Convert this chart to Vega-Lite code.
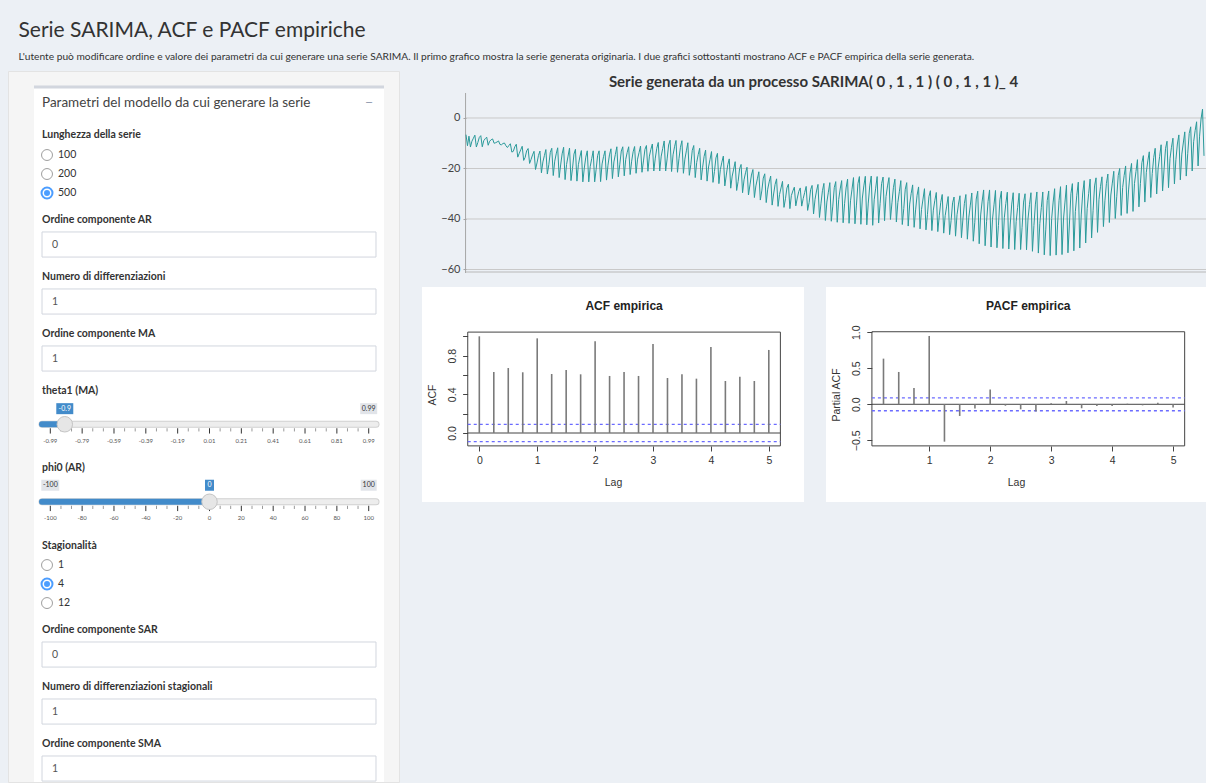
{
"$schema": "https://vega.github.io/schema/vega-lite/v6.json",
"background": "#ecf0f5",
"padding": {"left": 7, "top": 20, "right": 0, "bottom": 0},
"config": {"font": "Lato", "view": {"stroke": null}},
"title": {"text": "Serie SARIMA, ACF e PACF empiriche", "subtitle": "L'utente può modificare ordine e valore dei parametri da cui generare una serie SARIMA. Il primo grafico mostra la serie generata originaria. I due grafici sottostanti mostrano ACF e PACF empirica della serie generata.", "anchor": "start", "frame": "bounds", "dx": 11, "font": "Lato", "fontSize": 21, "fontWeight": "normal", "color": "#333333", "subtitleFont": "Lato", "subtitleFontSize": 10.2, "subtitleColor": "#333333", "subtitlePadding": 11, "offset": 8},
"datasets": {
"labels": [{"text":"Lunghezza della serie","line":2.53},{"text":"Ordine componente AR","line":7.0},{"text":"Numero di differenziazioni","line":10.0},{"text":"Ordine componente MA","line":13.0},{"text":"theta1 (MA)","line":16.0},{"text":"phi0 (AR)","line":20.05},{"text":"Stagionalità","line":24.16},{"text":"Ordine componente SAR","line":28.58},{"text":"Numero di differenziazioni stagionali","line":31.58},{"text":"Ordine componente SMA","line":34.58}],
"inputs": [{"param":"AR","value":"0","line":7.0},{"param":"d","value":"1","line":10.0},{"param":"MA","value":"1","line":13.0},{"param":"SAR","value":"0","line":28.58},{"param":"D","value":"1","line":31.58},{"param":"SMA","value":"1","line":34.58}],
"radios": [{"group":"Lunghezza della serie","opt":"100","sel":false,"line":3.58},{"group":"Lunghezza della serie","opt":"200","sel":false,"line":4.58},{"group":"Lunghezza della serie","opt":"500","sel":true,"line":5.58},{"group":"Stagionalità","opt":"1","sel":false,"line":25.16},{"group":"Stagionalità","opt":"4","sel":true,"line":26.16},{"group":"Stagionalità","opt":"12","sel":false,"line":27.16}],
"thetaMajor": [{"tick":-0.99,"label":"-0.99"},{"tick":-0.792,"label":"-0.79"},{"tick":-0.594,"label":"-0.59"},{"tick":-0.396,"label":"-0.39"},{"tick":-0.198,"label":"-0.19"},{"tick":0.0,"label":"0.01"},{"tick":0.198,"label":"0.21"},{"tick":0.396,"label":"0.41"},{"tick":0.594,"label":"0.61"},{"tick":0.792,"label":"0.81"},{"tick":0.99,"label":"0.99"}],
"thetaMinor": [{"tick":-0.924},{"tick":-0.858},{"tick":-0.726},{"tick":-0.66},{"tick":-0.528},{"tick":-0.462},{"tick":-0.33},{"tick":-0.264},{"tick":-0.132},{"tick":-0.066},{"tick":0.066},{"tick":0.132},{"tick":0.264},{"tick":0.33},{"tick":0.462},{"tick":0.528},{"tick":0.66},{"tick":0.726},{"tick":0.858},{"tick":0.924}],
"thetaBadges": [{"pos":-0.9,"text":"-0.9","kind":"value"},{"pos":0.99,"text":"0.99","kind":"max"}],
"phiMajor": [{"tick":-100,"label":"-100"},{"tick":-80,"label":"-80"},{"tick":-60,"label":"-60"},{"tick":-40,"label":"-40"},{"tick":-20,"label":"-20"},{"tick":0,"label":"0"},{"tick":20,"label":"20"},{"tick":40,"label":"40"},{"tick":60,"label":"60"},{"tick":80,"label":"80"},{"tick":100,"label":"100"}],
"phiMinor": [{"tick":-93.3},{"tick":-86.7},{"tick":-73.3},{"tick":-66.7},{"tick":-53.3},{"tick":-46.7},{"tick":-33.3},{"tick":-26.7},{"tick":-13.3},{"tick":-6.7},{"tick":6.7},{"tick":13.3},{"tick":26.7},{"tick":33.3},{"tick":46.7},{"tick":53.3},{"tick":66.7},{"tick":73.3},{"tick":86.7},{"tick":93.3}],
"phiBadges": [{"pos":-100,"text":"-100","kind":"min"},{"pos":0,"text":"0","kind":"value"},{"pos":100,"text":"100","kind":"max"}],
"acf": [{"lag":0,"acf":1.0},{"lag":0.25,"acf":0.631},{"lag":0.5,"acf":0.672},{"lag":0.75,"acf":0.628},{"lag":1,"acf":0.979},{"lag":1.25,"acf":0.61},{"lag":1.5,"acf":0.652},{"lag":1.75,"acf":0.607},{"lag":2,"acf":0.948},{"lag":2.25,"acf":0.59},{"lag":2.5,"acf":0.631},{"lag":2.75,"acf":0.59},{"lag":3,"acf":0.921},{"lag":3.25,"acf":0.569},{"lag":3.5,"acf":0.607},{"lag":3.75,"acf":0.562},{"lag":4,"acf":0.89},{"lag":4.25,"acf":0.538},{"lag":4.5,"acf":0.583},{"lag":4.75,"acf":0.538},{"lag":5,"acf":0.859}],
"pacf": [{"lag":0.25,"pacf":0.634},{"lag":0.5,"pacf":0.449},{"lag":0.75,"pacf":0.227},{"lag":1,"pacf":0.949},{"lag":1.25,"pacf":-0.519},{"lag":1.5,"pacf":-0.162},{"lag":1.75,"pacf":-0.06},{"lag":2,"pacf":0.204},{"lag":2.25,"pacf":-0.02},{"lag":2.5,"pacf":-0.07},{"lag":2.75,"pacf":-0.1},{"lag":3,"pacf":0.014},{"lag":3.25,"pacf":0.046},{"lag":3.5,"pacf":-0.055},{"lag":3.75,"pacf":-0.023},{"lag":4,"pacf":-0.023},{"lag":4.25,"pacf":0.008},{"lag":4.5,"pacf":-0.015},{"lag":4.75,"pacf":0.02},{"lag":5,"pacf":-0.046}],
"series": [
{"t":0,"v":-6.6},{"t":1,"v":-11.0},{"t":2,"v":-7.2},{"t":3,"v":-11.5},
{"t":4,"v":-9.2},{"t":5,"v":-8.0},{"t":6,"v":-6.8},{"t":7,"v":-11.5},
{"t":8,"v":-9.7},{"t":9,"v":-7.7},{"t":10,"v":-7.0},{"t":11,"v":-11.4},
{"t":12,"v":-9.0},{"t":13,"v":-8.2},{"t":14,"v":-7.6},{"t":15,"v":-10.8},
{"t":16,"v":-9.2},{"t":17,"v":-8.6},{"t":18,"v":-8.3},{"t":19,"v":-10.0},
{"t":20,"v":-9.8},{"t":21,"v":-9.5},{"t":22,"v":-9.1},{"t":23,"v":-10.5},
{"t":24,"v":-10.6},{"t":25,"v":-10.1},{"t":26,"v":-9.9},{"t":27,"v":-11.0},
{"t":28,"v":-11.7},{"t":29,"v":-10.9},{"t":30,"v":-10.2},{"t":31,"v":-13.5},
{"t":32,"v":-13.2},{"t":33,"v":-11.4},{"t":34,"v":-10.4},{"t":35,"v":-15.5},
{"t":36,"v":-14.0},{"t":37,"v":-12.6},{"t":38,"v":-11.2},{"t":39,"v":-16.8},
{"t":40,"v":-15.6},{"t":41,"v":-13.0},{"t":42,"v":-12.1},{"t":43,"v":-18.0},
{"t":44,"v":-16.4},{"t":45,"v":-14.6},{"t":46,"v":-13.2},{"t":47,"v":-20.4},
{"t":48,"v":-17.8},{"t":49,"v":-14.8},{"t":50,"v":-13.1},{"t":51,"v":-21.7},
{"t":52,"v":-17.4},{"t":53,"v":-14.9},{"t":54,"v":-12.5},{"t":55,"v":-22.2},
{"t":56,"v":-18.5},{"t":57,"v":-13.6},{"t":58,"v":-12.0},{"t":59,"v":-22.8},
{"t":60,"v":-17.1},{"t":61,"v":-14.2},{"t":62,"v":-11.8},{"t":63,"v":-23.6},
{"t":64,"v":-18.6},{"t":65,"v":-14.2},{"t":66,"v":-11.6},{"t":67,"v":-24.4},
{"t":68,"v":-18.4},{"t":69,"v":-15.1},{"t":70,"v":-11.9},{"t":71,"v":-24.8},
{"t":72,"v":-20.0},{"t":73,"v":-14.3},{"t":74,"v":-12.4},{"t":75,"v":-25.0},
{"t":76,"v":-18.5},{"t":77,"v":-15.4},{"t":78,"v":-12.9},{"t":79,"v":-25.3},
{"t":80,"v":-19.8},{"t":81,"v":-15.5},{"t":82,"v":-13.0},{"t":83,"v":-25.3},
{"t":84,"v":-19.2},{"t":85,"v":-16.1},{"t":86,"v":-13.0},{"t":87,"v":-25.3},
{"t":88,"v":-20.3},{"t":89,"v":-14.8},{"t":90,"v":-13.0},{"t":91,"v":-25.2},
{"t":92,"v":-18.2},{"t":93,"v":-15.3},{"t":94,"v":-13.0},{"t":95,"v":-24.6},
{"t":96,"v":-18.7},{"t":97,"v":-14.6},{"t":98,"v":-12.2},{"t":99,"v":-24.0},
{"t":100,"v":-17.4},{"t":101,"v":-14.4},{"t":102,"v":-11.4},{"t":103,"v":-23.3},
{"t":104,"v":-18.3},{"t":105,"v":-13.1},{"t":106,"v":-11.4},{"t":107,"v":-22.9},
{"t":108,"v":-16.4},{"t":109,"v":-13.6},{"t":110,"v":-11.4},{"t":111,"v":-22.4},
{"t":112,"v":-17.1},{"t":113,"v":-13.4},{"t":114,"v":-11.3},{"t":115,"v":-21.9},
{"t":116,"v":-16.3},{"t":117,"v":-13.7},{"t":118,"v":-11.1},{"t":119,"v":-21.5},
{"t":120,"v":-17.0},{"t":121,"v":-12.4},{"t":122,"v":-10.9},{"t":123,"v":-21.1},
{"t":124,"v":-15.1},{"t":125,"v":-12.4},{"t":126,"v":-10.3},{"t":127,"v":-21.0},
{"t":128,"v":-15.9},{"t":129,"v":-12.0},{"t":130,"v":-9.7},{"t":131,"v":-21.0},
{"t":132,"v":-15.1},{"t":133,"v":-12.1},{"t":134,"v":-9.1},{"t":135,"v":-21.0},
{"t":136,"v":-16.2},{"t":137,"v":-10.7},{"t":138,"v":-8.8},{"t":139,"v":-21.2},
{"t":140,"v":-14.6},{"t":141,"v":-11.4},{"t":142,"v":-8.9},{"t":143,"v":-21.5},
{"t":144,"v":-16.1},{"t":145,"v":-11.6},{"t":146,"v":-9.0},{"t":147,"v":-21.9},
{"t":148,"v":-16.3},{"t":149,"v":-13.0},{"t":150,"v":-9.8},{"t":151,"v":-22.7},
{"t":152,"v":-18.5},{"t":153,"v":-12.8},{"t":154,"v":-10.9},{"t":155,"v":-23.6},
{"t":156,"v":-17.6},{"t":157,"v":-14.5},{"t":158,"v":-12.0},{"t":159,"v":-24.5},
{"t":160,"v":-19.5},{"t":161,"v":-15.2},{"t":162,"v":-12.7},{"t":163,"v":-25.0},
{"t":164,"v":-19.4},{"t":165,"v":-16.4},{"t":166,"v":-13.3},{"t":167,"v":-25.5},
{"t":168,"v":-21.2},{"t":169,"v":-15.8},{"t":170,"v":-14.0},{"t":171,"v":-26.0},
{"t":172,"v":-20.4},{"t":173,"v":-17.5},{"t":174,"v":-15.1},{"t":175,"v":-26.9},
{"t":176,"v":-22.6},{"t":177,"v":-18.5},{"t":178,"v":-16.2},{"t":179,"v":-27.8},
{"t":180,"v":-23.0},{"t":181,"v":-20.2},{"t":182,"v":-17.3},{"t":183,"v":-28.7},
{"t":184,"v":-25.1},{"t":185,"v":-20.1},{"t":186,"v":-18.4},{"t":187,"v":-29.6},
{"t":188,"v":-24.5},{"t":189,"v":-21.7},{"t":190,"v":-19.5},{"t":191,"v":-30.5},
{"t":192,"v":-26.5},{"t":193,"v":-22.6},{"t":194,"v":-20.4},{"t":195,"v":-31.5},
{"t":196,"v":-26.9},{"t":197,"v":-24.1},{"t":198,"v":-21.3},{"t":199,"v":-32.5},
{"t":200,"v":-28.9},{"t":201,"v":-23.8},{"t":202,"v":-22.1},{"t":203,"v":-33.5},
{"t":204,"v":-28.2},{"t":205,"v":-25.3},{"t":206,"v":-23.0},{"t":207,"v":-34.5},
{"t":208,"v":-30.1},{"t":209,"v":-26.3},{"t":210,"v":-24.1},{"t":211,"v":-35.0},
{"t":212,"v":-30.3},{"t":213,"v":-27.7},{"t":214,"v":-25.1},{"t":215,"v":-35.4},
{"t":216,"v":-32.0},{"t":217,"v":-27.7},{"t":218,"v":-26.2},{"t":219,"v":-35.9},
{"t":220,"v":-30.7},{"t":221,"v":-28.9},{"t":222,"v":-27.4},{"t":223,"v":-34.8},
{"t":224,"v":-31.7},{"t":225,"v":-29.1},{"t":226,"v":-27.7},{"t":227,"v":-34.9},
{"t":228,"v":-31.9},{"t":229,"v":-29.5},{"t":230,"v":-27.1},{"t":231,"v":-36.6},
{"t":232,"v":-33.5},{"t":233,"v":-28.4},{"t":234,"v":-26.7},{"t":235,"v":-38.0},
{"t":236,"v":-32.2},{"t":237,"v":-28.9},{"t":238,"v":-26.3},{"t":239,"v":-39.4},
{"t":240,"v":-34.0},{"t":241,"v":-28.8},{"t":242,"v":-25.9},{"t":243,"v":-40.6},
{"t":244,"v":-33.3},{"t":245,"v":-29.4},{"t":246,"v":-25.6},{"t":247,"v":-40.9},
{"t":248,"v":-34.9},{"t":249,"v":-27.6},{"t":250,"v":-25.2},{"t":251,"v":-41.3},
{"t":252,"v":-32.3},{"t":253,"v":-28.1},{"t":254,"v":-24.8},{"t":255,"v":-41.5},
{"t":256,"v":-33.8},{"t":257,"v":-27.7},{"t":258,"v":-24.2},{"t":259,"v":-41.7},
{"t":260,"v":-32.8},{"t":261,"v":-28.2},{"t":262,"v":-23.6},{"t":263,"v":-41.9},
{"t":264,"v":-34.5},{"t":265,"v":-26.0},{"t":266,"v":-23.2},{"t":267,"v":-42.1},
{"t":268,"v":-31.7},{"t":269,"v":-26.9},{"t":270,"v":-23.1},{"t":271,"v":-42.3},
{"t":272,"v":-33.7},{"t":273,"v":-26.9},{"t":274,"v":-23.0},{"t":275,"v":-42.5},
{"t":276,"v":-32.4},{"t":277,"v":-27.8},{"t":278,"v":-23.2},{"t":279,"v":-41.6},
{"t":280,"v":-33.8},{"t":281,"v":-26.0},{"t":282,"v":-23.4},{"t":283,"v":-40.7},
{"t":284,"v":-31.1},{"t":285,"v":-26.9},{"t":286,"v":-23.6},{"t":287,"v":-40.2},
{"t":288,"v":-33.6},{"t":289,"v":-27.6},{"t":290,"v":-24.2},{"t":291,"v":-41.2},
{"t":292,"v":-33.5},{"t":293,"v":-29.2},{"t":294,"v":-24.8},{"t":295,"v":-42.2},
{"t":296,"v":-35.9},{"t":297,"v":-28.2},{"t":298,"v":-25.6},{"t":299,"v":-42.8},
{"t":300,"v":-34.1},{"t":301,"v":-29.9},{"t":302,"v":-26.5},{"t":303,"v":-43.3},
{"t":304,"v":-36.4},{"t":305,"v":-30.6},{"t":306,"v":-27.3},{"t":307,"v":-43.9},
{"t":308,"v":-36.2},{"t":309,"v":-32.1},{"t":310,"v":-28.0},{"t":311,"v":-44.3},
{"t":312,"v":-38.3},{"t":313,"v":-31.2},{"t":314,"v":-28.8},{"t":315,"v":-44.6},
{"t":316,"v":-36.5},{"t":317,"v":-32.6},{"t":318,"v":-29.5},{"t":319,"v":-45.0},
{"t":320,"v":-38.7},{"t":321,"v":-33.4},{"t":322,"v":-30.3},{"t":323,"v":-45.6},
{"t":324,"v":-38.7},{"t":325,"v":-34.9},{"t":326,"v":-31.1},{"t":327,"v":-46.2},
{"t":328,"v":-40.6},{"t":329,"v":-33.6},{"t":330,"v":-31.3},{"t":331,"v":-46.8},
{"t":332,"v":-38.3},{"t":333,"v":-34.1},{"t":334,"v":-30.8},{"t":335,"v":-47.4},
{"t":336,"v":-40.0},{"t":337,"v":-33.8},{"t":338,"v":-30.3},{"t":339,"v":-48.0},
{"t":340,"v":-39.3},{"t":341,"v":-34.5},{"t":342,"v":-29.7},{"t":343,"v":-48.8},
{"t":344,"v":-41.5},{"t":345,"v":-32.1},{"t":346,"v":-29.0},{"t":347,"v":-49.8},
{"t":348,"v":-38.4},{"t":349,"v":-32.9},{"t":350,"v":-28.5},{"t":351,"v":-50.6},
{"t":352,"v":-40.9},{"t":353,"v":-33.0},{"t":354,"v":-28.5},{"t":355,"v":-51.1},
{"t":356,"v":-40.1},{"t":357,"v":-34.4},{"t":358,"v":-28.7},{"t":359,"v":-51.4},
{"t":360,"v":-42.6},{"t":361,"v":-32.4},{"t":362,"v":-29.0},{"t":363,"v":-51.7},
{"t":364,"v":-39.5},{"t":365,"v":-33.9},{"t":366,"v":-29.4},{"t":367,"v":-51.9},
{"t":368,"v":-42.0},{"t":369,"v":-34.1},{"t":370,"v":-29.6},{"t":371,"v":-52.1},
{"t":372,"v":-41.0},{"t":373,"v":-35.4},{"t":374,"v":-29.8},{"t":375,"v":-52.1},
{"t":376,"v":-43.3},{"t":377,"v":-33.3},{"t":378,"v":-30.0},{"t":379,"v":-52.2},
{"t":380,"v":-40.0},{"t":381,"v":-34.2},{"t":382,"v":-29.6},{"t":383,"v":-52.8},
{"t":384,"v":-42.6},{"t":385,"v":-34.1},{"t":386,"v":-29.3},{"t":387,"v":-53.5},
{"t":388,"v":-41.8},{"t":389,"v":-35.5},{"t":390,"v":-29.3},{"t":391,"v":-54.2},
{"t":392,"v":-44.3},{"t":393,"v":-32.7},{"t":394,"v":-28.9},{"t":395,"v":-54.5},
{"t":396,"v":-39.8},{"t":397,"v":-33.3},{"t":398,"v":-28.0},{"t":399,"v":-54.3},
{"t":400,"v":-42.0},{"t":401,"v":-32.6},{"t":402,"v":-27.2},{"t":403,"v":-54.1},
{"t":404,"v":-40.0},{"t":405,"v":-33.3},{"t":406,"v":-26.6},{"t":407,"v":-53.4},
{"t":408,"v":-42.0},{"t":409,"v":-30.0},{"t":410,"v":-26.0},{"t":411,"v":-52.6},
{"t":412,"v":-37.1},{"t":413,"v":-30.6},{"t":414,"v":-25.4},{"t":415,"v":-51.5},
{"t":416,"v":-38.4},{"t":417,"v":-29.7},{"t":418,"v":-24.8},{"t":419,"v":-49.5},
{"t":420,"v":-35.9},{"t":421,"v":-30.0},{"t":422,"v":-24.2},{"t":423,"v":-47.5},
{"t":424,"v":-36.7},{"t":425,"v":-26.9},{"t":426,"v":-23.7},{"t":427,"v":-45.3},
{"t":428,"v":-32.2},{"t":429,"v":-27.2},{"t":430,"v":-23.3},{"t":431,"v":-43.0},
{"t":432,"v":-32.8},{"t":433,"v":-26.0},{"t":434,"v":-22.2},{"t":435,"v":-41.4},
{"t":436,"v":-30.5},{"t":437,"v":-25.8},{"t":438,"v":-21.1},{"t":439,"v":-39.8},
{"t":440,"v":-31.2},{"t":441,"v":-22.8},{"t":442,"v":-20.0},{"t":443,"v":-38.6},
{"t":444,"v":-27.5},{"t":445,"v":-22.8},{"t":446,"v":-19.0},{"t":447,"v":-37.8},
{"t":448,"v":-28.5},{"t":449,"v":-21.8},{"t":450,"v":-18.0},{"t":451,"v":-37.0},
{"t":452,"v":-25.9},{"t":453,"v":-21.2},{"t":454,"v":-16.5},{"t":455,"v":-35.2},
{"t":456,"v":-25.9},{"t":457,"v":-17.7},{"t":458,"v":-14.9},{"t":459,"v":-33.3},
{"t":460,"v":-21.5},{"t":461,"v":-17.0},{"t":462,"v":-13.4},{"t":463,"v":-31.5},
{"t":464,"v":-22.0},{"t":465,"v":-15.6},{"t":466,"v":-12.0},{"t":467,"v":-30.1},
{"t":468,"v":-19.8},{"t":469,"v":-15.2},{"t":470,"v":-10.6},{"t":471,"v":-28.9},
{"t":472,"v":-20.2},{"t":473,"v":-12.0},{"t":474,"v":-9.2},{"t":475,"v":-27.6},
{"t":476,"v":-16.1},{"t":477,"v":-11.6},{"t":478,"v":-8.0},{"t":479,"v":-26.1},
{"t":480,"v":-16.5},{"t":481,"v":-10.3},{"t":482,"v":-6.7},{"t":483,"v":-24.5},
{"t":484,"v":-14.3},{"t":485,"v":-9.9},{"t":486,"v":-5.5},{"t":487,"v":-23.0},
{"t":488,"v":-14.0},{"t":489,"v":-6.1},{"t":490,"v":-3.5},{"t":491,"v":-21.0},
{"t":492,"v":-9.4},{"t":493,"v":-5.0},{"t":494,"v":-1.5},{"t":495,"v":-19.0},
{"t":496,"v":-7.2},{"t":497,"v":-0.4},{"t":498,"v":3.5},{"t":499,"v":-15.0}
]
},
"spacing": 22,
"columns": 2,
"align": "none",
"concat": [
{
"width": 391, "height": 711,
"view": {"fill": "#f5f5f5", "stroke": "#e3e3e3"},
"resolve": {"scale": {"x": "independent"}},
"layer": [
{"layer": [
{"data": {"values": [{"part": "box"}]}, "mark": {"type": "rect", "fill": "#ffffff"},
 "encoding": {"x": {"datum": -2.4, "type": "quantitative", "scale": {"domain": [-10.18, 106.89], "nice": false, "zero": false}, "axis": null}, "x2": {"datum": 102.4},
 "y": {"datum": 0, "type": "quantitative", "scale": {"domain": [-0.842, 36.579], "reverse": true, "nice": false, "zero": false}, "axis": null}, "y2": {"datum": 36.579}}},
{"data": {"values": [{"part": "border"}]}, "mark": {"type": "rule", "stroke": "#d2d6de", "strokeWidth": 3},
 "encoding": {"x": {"datum": -2.4, "type": "quantitative", "scale": {"domain": [-10.18, 106.89], "nice": false, "zero": false}, "axis": null}, "x2": {"datum": 102.4},
 "y": {"datum": 0, "type": "quantitative", "scale": {"domain": [-0.842, 36.579], "reverse": true, "nice": false, "zero": false}, "axis": null}}},
{"data": {"values": [{"text": "Parametri del modello da cui generare la serie"}]}, "mark": {"type": "text", "align": "left", "baseline": "middle", "fontSize": 13.5, "color": "#444444"},
 "encoding": {"x": {"datum": 0, "type": "quantitative", "scale": {"domain": [-10.18, 106.89], "nice": false, "zero": false}, "axis": null},
 "y": {"datum": 0.84, "type": "quantitative", "scale": {"domain": [-0.842, 36.579], "reverse": true, "nice": false, "zero": false}, "axis": null}, "text": {"field": "text"}}},
{"data": {"values": [{"text": "−"}]}, "mark": {"type": "text", "align": "center", "baseline": "middle", "fontSize": 14, "color": "#97a0b3"},
 "encoding": {"x": {"datum": 97.9, "type": "quantitative", "scale": {"domain": [-10.18, 106.89], "nice": false, "zero": false}, "axis": null},
 "y": {"datum": 0.84, "type": "quantitative", "scale": {"domain": [-0.842, 36.579], "reverse": true, "nice": false, "zero": false}, "axis": null}, "text": {"field": "text"}}},
{"data": {"name": "labels"}, "mark": {"type": "text", "align": "left", "baseline": "middle", "fontSize": 10.5, "fontWeight": "bold", "color": "#333333"},
 "encoding": {"x": {"datum": 0, "type": "quantitative", "scale": {"domain": [-10.18, 106.89], "nice": false, "zero": false}, "axis": null},
 "y": {"field": "line", "type": "quantitative", "scale": {"domain": [-0.842, 36.579], "reverse": true, "nice": false, "zero": false}, "axis": null}, "text": {"field": "text"}}},
{"data": {"name": "inputs"}, "transform": [{"calculate": "datum.line + 0.63", "as": "top"}, {"calculate": "datum.line + 1.95", "as": "bot"}],
 "mark": {"type": "rect", "fill": "#ffffff", "stroke": "#d2d6de", "strokeWidth": 1},
 "encoding": {"x": {"datum": 0, "type": "quantitative", "scale": {"domain": [-10.18, 106.89], "nice": false, "zero": false}, "axis": null}, "x2": {"datum": 100},
 "y": {"field": "top", "type": "quantitative", "scale": {"domain": [-0.842, 36.579], "reverse": true, "nice": false, "zero": false}, "axis": null}, "y2": {"field": "bot"}}},
{"data": {"name": "inputs"}, "transform": [{"calculate": "datum.line + 1.29", "as": "mid"}],
 "mark": {"type": "text", "align": "left", "baseline": "middle", "fontSize": 10.5, "color": "#555555"},
 "encoding": {"x": {"datum": 3, "type": "quantitative", "scale": {"domain": [-10.18, 106.89], "nice": false, "zero": false}, "axis": null},
 "y": {"field": "mid", "type": "quantitative", "scale": {"domain": [-0.842, 36.579], "reverse": true, "nice": false, "zero": false}, "axis": null}, "text": {"field": "value"}}},
{"data": {"name": "radios"}, "mark": {"type": "point", "shape": "circle", "size": 120, "filled": true, "fill": "#ffffff"},
 "encoding": {"x": {"datum": 1.5, "type": "quantitative", "scale": {"domain": [-10.18, 106.89], "nice": false, "zero": false}, "axis": null},
 "y": {"field": "line", "type": "quantitative", "scale": {"domain": [-0.842, 36.579], "reverse": true, "nice": false, "zero": false}, "axis": null},
 "stroke": {"condition": {"test": "datum.sel", "value": "#0075ff"}, "value": "#767676"},
 "strokeWidth": {"condition": {"test": "datum.sel", "value": 2}, "value": 1}}},
{"data": {"name": "radios"}, "transform": [{"filter": "datum.sel"}], "mark": {"type": "point", "shape": "circle", "size": 36, "filled": true, "fill": "#0075ff", "strokeWidth": 0},
 "encoding": {"x": {"datum": 1.5, "type": "quantitative", "scale": {"domain": [-10.18, 106.89], "nice": false, "zero": false}, "axis": null},
 "y": {"field": "line", "type": "quantitative", "scale": {"domain": [-0.842, 36.579], "reverse": true, "nice": false, "zero": false}, "axis": null}}},
{"data": {"name": "radios"}, "mark": {"type": "text", "align": "left", "baseline": "middle", "fontSize": 10.5, "color": "#333333"},
 "encoding": {"x": {"datum": 4.8, "type": "quantitative", "scale": {"domain": [-10.18, 106.89], "nice": false, "zero": false}, "axis": null},
 "y": {"field": "line", "type": "quantitative", "scale": {"domain": [-0.842, 36.579], "reverse": true, "nice": false, "zero": false}, "axis": null}, "text": {"field": "opt"}}}
]},
{"layer": [
{"data": {"values": [{"slider": "theta1 (MA)"}]}, "mark": {"type": "rule", "stroke": "#d0d0d0", "strokeWidth": 7, "strokeCap": "round"},
 "encoding": {"x": {"datum": -1.0416, "type": "quantitative", "scale": {"domain": [-1.2531, 1.1784], "nice": false, "zero": false}, "axis": null}, "x2": {"datum": 1.0354},
 "y": {"datum": 17.75, "type": "quantitative", "scale": {"domain": [-0.842, 36.579], "reverse": true, "nice": false, "zero": false}, "axis": null}}},
{"data": {"values": [{"slider": "theta1 (MA)"}]}, "mark": {"type": "rule", "stroke": "#ededed", "strokeWidth": 5, "strokeCap": "round"},
 "encoding": {"x": {"datum": -1.0416, "type": "quantitative", "scale": {"domain": [-1.2531, 1.1784], "nice": false, "zero": false}, "axis": null}, "x2": {"datum": 1.0354},
 "y": {"datum": 17.75, "type": "quantitative", "scale": {"domain": [-0.842, 36.579], "reverse": true, "nice": false, "zero": false}, "axis": null}}},
{"data": {"values": [{"slider": "theta1 (MA)"}]}, "mark": {"type": "rule", "stroke": "#428bca", "strokeWidth": 6, "strokeCap": "round"},
 "encoding": {"x": {"datum": -1.0416, "type": "quantitative", "scale": {"domain": [-1.2531, 1.1784], "nice": false, "zero": false}, "axis": null}, "x2": {"datum": -0.9},
 "y": {"datum": 17.75, "type": "quantitative", "scale": {"domain": [-0.842, 36.579], "reverse": true, "nice": false, "zero": false}, "axis": null}}},
{"data": {"name": "thetaMinor"}, "mark": {"type": "rule", "stroke": "#9a9a9a", "strokeWidth": 1},
 "encoding": {"x": {"field": "tick", "type": "quantitative", "scale": {"domain": [-1.2531, 1.1784], "nice": false, "zero": false}, "axis": null},
 "y": {"datum": 17.96, "type": "quantitative", "scale": {"domain": [-0.842, 36.579], "reverse": true, "nice": false, "zero": false}, "axis": null}, "y2": {"datum": 18.13}}},
{"data": {"name": "thetaMajor"}, "mark": {"type": "rule", "stroke": "#333333", "strokeWidth": 1},
 "encoding": {"x": {"field": "tick", "type": "quantitative", "scale": {"domain": [-1.2531, 1.1784], "nice": false, "zero": false}, "axis": null},
 "y": {"datum": 17.96, "type": "quantitative", "scale": {"domain": [-0.842, 36.579], "reverse": true, "nice": false, "zero": false}, "axis": null}, "y2": {"datum": 18.24}}},
{"data": {"name": "thetaMajor"}, "mark": {"type": "text", "align": "center", "baseline": "middle", "fontSize": 6, "color": "#555555"},
 "encoding": {"x": {"field": "tick", "type": "quantitative", "scale": {"domain": [-1.2531, 1.1784], "nice": false, "zero": false}, "axis": null},
 "y": {"datum": 18.63, "type": "quantitative", "scale": {"domain": [-0.842, 36.579], "reverse": true, "nice": false, "zero": false}, "axis": null}, "text": {"field": "label"}}},
{"data": {"values": [{"value": -0.9}]}, "mark": {"type": "point", "shape": "circle", "size": 240, "filled": true, "fill": "#e6e6e6", "stroke": "#c4c4c4", "strokeWidth": 1, "opacity": 1},
 "encoding": {"x": {"field": "value", "type": "quantitative", "scale": {"domain": [-1.2531, 1.1784], "nice": false, "zero": false}, "axis": null},
 "y": {"datum": 17.75, "type": "quantitative", "scale": {"domain": [-0.842, 36.579], "reverse": true, "nice": false, "zero": false}, "axis": null}}},
{"data": {"name": "thetaBadges"}, "mark": {"type": "point", "size": 400, "filled": true, "strokeWidth": 0, "opacity": 1},
 "encoding": {"x": {"field": "pos", "type": "quantitative", "scale": {"domain": [-1.2531, 1.1784], "nice": false, "zero": false}, "axis": null},
 "y": {"datum": 16.93, "type": "quantitative", "scale": {"domain": [-0.842, 36.579], "reverse": true, "nice": false, "zero": false}, "axis": null},
 "shape": {"field": "text", "type": "nominal", "scale": {"domain": ["-0.9", "0.99", "-100", "0", "100"], "range": ["M-0.85,-0.55H0.85V0.55H-0.85Z", "M-0.85,-0.55H0.85V0.55H-0.85Z", "M-0.9,-0.55H0.9V0.55H-0.9Z", "M-0.45,-0.55H0.45V0.55H-0.45Z", "M-0.8,-0.55H0.8V0.55H-0.8Z"]}, "legend": null},
 "fill": {"condition": {"test": "datum.kind == 'value'", "value": "#428bca"}, "value": "#e1e4e9"}}},
{"data": {"name": "thetaBadges"}, "mark": {"type": "text", "align": "center", "baseline": "middle", "fontSize": 7},
 "encoding": {"x": {"field": "pos", "type": "quantitative", "scale": {"domain": [-1.2531, 1.1784], "nice": false, "zero": false}, "axis": null},
 "y": {"datum": 16.93, "type": "quantitative", "scale": {"domain": [-0.842, 36.579], "reverse": true, "nice": false, "zero": false}, "axis": null},
 "text": {"field": "text"}, "color": {"condition": {"test": "datum.kind == 'value'", "value": "#ffffff"}, "value": "#333333"}}}
]},
{"layer": [
{"data": {"values": [{"slider": "phi0 (AR)"}]}, "mark": {"type": "rule", "stroke": "#d0d0d0", "strokeWidth": 7, "strokeCap": "round"},
 "encoding": {"x": {"datum": -105.21, "type": "quantitative", "scale": {"domain": [-126.57, 119.03], "nice": false, "zero": false}, "axis": null}, "x2": {"datum": 104.59},
 "y": {"datum": 21.83, "type": "quantitative", "scale": {"domain": [-0.842, 36.579], "reverse": true, "nice": false, "zero": false}, "axis": null}}},
{"data": {"values": [{"slider": "phi0 (AR)"}]}, "mark": {"type": "rule", "stroke": "#ededed", "strokeWidth": 5, "strokeCap": "round"},
 "encoding": {"x": {"datum": -105.21, "type": "quantitative", "scale": {"domain": [-126.57, 119.03], "nice": false, "zero": false}, "axis": null}, "x2": {"datum": 104.59},
 "y": {"datum": 21.83, "type": "quantitative", "scale": {"domain": [-0.842, 36.579], "reverse": true, "nice": false, "zero": false}, "axis": null}}},
{"data": {"values": [{"slider": "phi0 (AR)"}]}, "mark": {"type": "rule", "stroke": "#428bca", "strokeWidth": 6, "strokeCap": "round"},
 "encoding": {"x": {"datum": -105.21, "type": "quantitative", "scale": {"domain": [-126.57, 119.03], "nice": false, "zero": false}, "axis": null}, "x2": {"datum": 0},
 "y": {"datum": 21.83, "type": "quantitative", "scale": {"domain": [-0.842, 36.579], "reverse": true, "nice": false, "zero": false}, "axis": null}}},
{"data": {"name": "phiMinor"}, "mark": {"type": "rule", "stroke": "#9a9a9a", "strokeWidth": 1},
 "encoding": {"x": {"field": "tick", "type": "quantitative", "scale": {"domain": [-126.57, 119.03], "nice": false, "zero": false}, "axis": null},
 "y": {"datum": 22.04, "type": "quantitative", "scale": {"domain": [-0.842, 36.579], "reverse": true, "nice": false, "zero": false}, "axis": null}, "y2": {"datum": 22.21}}},
{"data": {"name": "phiMajor"}, "mark": {"type": "rule", "stroke": "#333333", "strokeWidth": 1},
 "encoding": {"x": {"field": "tick", "type": "quantitative", "scale": {"domain": [-126.57, 119.03], "nice": false, "zero": false}, "axis": null},
 "y": {"datum": 22.04, "type": "quantitative", "scale": {"domain": [-0.842, 36.579], "reverse": true, "nice": false, "zero": false}, "axis": null}, "y2": {"datum": 22.32}}},
{"data": {"name": "phiMajor"}, "mark": {"type": "text", "align": "center", "baseline": "middle", "fontSize": 6, "color": "#555555"},
 "encoding": {"x": {"field": "tick", "type": "quantitative", "scale": {"domain": [-126.57, 119.03], "nice": false, "zero": false}, "axis": null},
 "y": {"datum": 22.68, "type": "quantitative", "scale": {"domain": [-0.842, 36.579], "reverse": true, "nice": false, "zero": false}, "axis": null}, "text": {"field": "label"}}},
{"data": {"values": [{"value": 0}]}, "mark": {"type": "point", "shape": "circle", "size": 240, "filled": true, "fill": "#e6e6e6", "stroke": "#c4c4c4", "strokeWidth": 1, "opacity": 1},
 "encoding": {"x": {"field": "value", "type": "quantitative", "scale": {"domain": [-126.57, 119.03], "nice": false, "zero": false}, "axis": null},
 "y": {"datum": 21.83, "type": "quantitative", "scale": {"domain": [-0.842, 36.579], "reverse": true, "nice": false, "zero": false}, "axis": null}}},
{"data": {"name": "phiBadges"}, "mark": {"type": "point", "size": 400, "filled": true, "strokeWidth": 0, "opacity": 1},
 "encoding": {"x": {"field": "pos", "type": "quantitative", "scale": {"domain": [-126.57, 119.03], "nice": false, "zero": false}, "axis": null},
 "y": {"datum": 20.96, "type": "quantitative", "scale": {"domain": [-0.842, 36.579], "reverse": true, "nice": false, "zero": false}, "axis": null},
 "shape": {"field": "text", "type": "nominal", "scale": {"domain": ["-0.9", "0.99", "-100", "0", "100"], "range": ["M-0.85,-0.55H0.85V0.55H-0.85Z", "M-0.85,-0.55H0.85V0.55H-0.85Z", "M-0.9,-0.55H0.9V0.55H-0.9Z", "M-0.45,-0.55H0.45V0.55H-0.45Z", "M-0.8,-0.55H0.8V0.55H-0.8Z"]}, "legend": null},
 "fill": {"condition": {"test": "datum.kind == 'value'", "value": "#428bca"}, "value": "#e1e4e9"}}},
{"data": {"name": "phiBadges"}, "mark": {"type": "text", "align": "center", "baseline": "middle", "fontSize": 7},
 "encoding": {"x": {"field": "pos", "type": "quantitative", "scale": {"domain": [-126.57, 119.03], "nice": false, "zero": false}, "axis": null},
 "y": {"datum": 20.96, "type": "quantitative", "scale": {"domain": [-0.842, 36.579], "reverse": true, "nice": false, "zero": false}, "axis": null},
 "text": {"field": "text"}, "color": {"condition": {"test": "datum.kind == 'value'", "value": "#ffffff"}, "value": "#333333"}}}
]}
]
},
{
"spacing": 12,
"vconcat": [
{
"width": 784, "height": 202,
"layer": [
{"data": {"values": [{"v": 0}, {"v": -20}, {"v": -40}, {"v": -60}]}, "mark": {"type": "rule", "stroke": "#c9c9c9", "strokeWidth": 1},
 "encoding": {"x": {"datum": -0.2, "type": "quantitative", "scale": {"domain": [-29.75, 500.35], "nice": false, "zero": false}, "axis": null}, "x2": {"datum": 500.35},
 "y": {"field": "v", "type": "quantitative", "scale": {"domain": [-61.39, 18.61], "nice": false, "zero": false}}}},
{"data": {"values": [{"line": "x axis"}]}, "mark": {"type": "rule", "stroke": "#b8b8b8", "strokeWidth": 1},
 "encoding": {"x": {"datum": -0.2, "type": "quantitative", "scale": {"domain": [-29.75, 500.35], "nice": false, "zero": false}, "axis": null}, "x2": {"datum": 500.35},
 "y": {"datum": -61.0, "type": "quantitative", "scale": {"domain": [-61.39, 18.61], "nice": false, "zero": false}}}},
{"data": {"values": [{"line": "y axis"}]}, "mark": {"type": "rule", "stroke": "#a6a6a6", "strokeWidth": 1},
 "encoding": {"x": {"datum": -0.3, "type": "quantitative", "scale": {"domain": [-29.75, 500.35], "nice": false, "zero": false}, "axis": null},
 "y": {"datum": -61.39, "type": "quantitative", "scale": {"domain": [-61.39, 18.61], "nice": false, "zero": false}}, "y2": {"datum": 9.9}}},
{"data": {"name": "series"}, "mark": {"type": "line", "stroke": "#2a9a9a", "strokeWidth": 1},
 "encoding": {"x": {"field": "t", "type": "quantitative", "scale": {"domain": [-29.75, 500.35], "nice": false, "zero": false}, "axis": null},
 "y": {"field": "v", "type": "quantitative", "scale": {"domain": [-61.39, 18.61], "nice": false, "zero": false},
  "axis": {"values": [-60, -40, -20, 0], "grid": false, "domain": false, "ticks": true, "tickSize": 3, "tickColor": "#a6a6a6", "labelFont": "Lato", "labelFontSize": 11, "labelColor": "#444444", "labelPadding": 3, "title": null, "offset": -44, "zindex": 1}}}},
{"data": {"values": [{"title": "Serie generata da un processo SARIMA( 0 , 1 , 1 ) ( 0 , 1 , 1 )_ 4"}]}, "mark": {"type": "text", "align": "center", "baseline": "middle", "font": "Lato", "fontSize": 15, "fontWeight": "bold", "color": "#333333"},
 "encoding": {"x": {"datum": 235, "type": "quantitative", "scale": {"domain": [-29.75, 500.35], "nice": false, "zero": false}, "axis": null},
 "y": {"datum": 14.26, "type": "quantitative", "scale": {"domain": [-61.39, 18.61], "nice": false, "zero": false}}, "text": {"field": "title"}}}
]
},
{
"spacing": 22,
"hconcat": [
{
"width": 382, "height": 215,
"view": {"fill": "#ffffff", "stroke": null},
"layer": [
{"data": {"values": [{"panel": "ACF"}]}, "mark": {"type": "rect", "fillOpacity": 0, "stroke": "#444444", "strokeWidth": 1},
 "encoding": {"x": {"datum": -0.2, "type": "quantitative", "scale": {"domain": [-0.99, 5.608], "nice": false, "zero": false}}, "x2": {"datum": 5.2},
 "y": {"datum": -0.1331, "type": "quantitative", "scale": {"domain": [-0.7135, 1.51], "nice": false, "zero": false}}, "y2": {"datum": 1.0436}}},
{"data": {"values": [{"z": 0}]}, "mark": {"type": "rule", "stroke": "#444444", "strokeWidth": 1},
 "encoding": {"x": {"datum": -0.2, "type": "quantitative", "scale": {"domain": [-0.99, 5.608], "nice": false, "zero": false}}, "x2": {"datum": 5.2},
 "y": {"field": "z", "type": "quantitative", "scale": {"domain": [-0.7135, 1.51], "nice": false, "zero": false}}}},
{"data": {"values": [{"ci": 0.0894}, {"ci": -0.0894}]}, "mark": {"type": "rule", "stroke": "#6b6bff", "strokeWidth": 1.3, "strokeDash": [3, 3]},
 "encoding": {"x": {"datum": -0.2, "type": "quantitative", "scale": {"domain": [-0.99, 5.608], "nice": false, "zero": false}}, "x2": {"datum": 5.2},
 "y": {"field": "ci", "type": "quantitative", "scale": {"domain": [-0.7135, 1.51], "nice": false, "zero": false}}}},
{"data": {"name": "acf"}, "mark": {"type": "rule", "stroke": "#7a7a7a", "strokeWidth": 1.6},
 "encoding": {"x": {"field": "lag", "type": "quantitative", "scale": {"domain": [-0.99, 5.608], "nice": false, "zero": false},
  "axis": {"orient": "bottom", "offset": -56, "values": [0, 1, 2, 3, 4, 5], "format": "d", "domain": false, "grid": false, "ticks": true, "tickSize": 5, "tickColor": "#444444", "labelFlush": false, "labelFont": "Liberation Sans", "labelFontSize": 10.5, "labelColor": "#333333", "labelPadding": 4, "title": "Lag", "titleFont": "Liberation Sans", "titleFontSize": 10.5, "titleFontWeight": "normal", "titleColor": "#333333", "titlePadding": 12, "zindex": 1}},
 "y": {"field": "acf", "type": "quantitative", "scale": {"domain": [-0.7135, 1.51], "nice": false, "zero": false},
  "axis": {"orient": "left", "offset": -45.6, "values": [0, 0.2, 0.4, 0.6, 0.8, 1], "labelExpr": "(datum.value == 0 || datum.value == 0.4 || datum.value == 0.8) ? format(datum.value, '.1f') : ''", "domain": false, "grid": false, "ticks": true, "tickSize": 5, "tickColor": "#444444", "labelAngle": 270, "labelAlign": "center", "labelBaseline": "bottom", "labelOverlap": false, "labelFont": "Liberation Sans", "labelFontSize": 10.5, "labelColor": "#333333", "labelPadding": 5, "title": "ACF", "titleFont": "Liberation Sans", "titleFontSize": 10.5, "titleFontWeight": "normal", "titleColor": "#333333", "titlePadding": 10, "zindex": 1}},
 "y2": {"datum": 0}}},
{"data": {"values": [{"title": "ACF empirica"}]}, "mark": {"type": "text", "align": "center", "baseline": "middle", "font": "Liberation Sans", "fontWeight": "bold", "fontSize": 12, "color": "#222222"},
 "encoding": {"x": {"datum": 2.5, "type": "quantitative", "scale": {"domain": [-0.99, 5.608], "nice": false, "zero": false}}, "y": {"datum": 1.313, "type": "quantitative", "scale": {"domain": [-0.7135, 1.51], "nice": false, "zero": false}}, "text": {"field": "title"}}}
]
},
{
"width": 380, "height": 215,
"view": {"fill": "#ffffff", "stroke": null},
"layer": [
{"data": {"values": [{"panel": "PACF"}]}, "mark": {"type": "rect", "fillOpacity": 0, "stroke": "#444444", "strokeWidth": 1},
 "encoding": {"x": {"datum": 0.06, "type": "quantitative", "scale": {"domain": [-0.693, 5.54], "nice": false, "zero": false}}, "x2": {"datum": 5.19},
 "y": {"datum": -0.5777, "type": "quantitative", "scale": {"domain": [-1.357, 1.629], "nice": false, "zero": false}}, "y2": {"datum": 1.0077}}},
{"data": {"values": [{"z": 0}]}, "mark": {"type": "rule", "stroke": "#444444", "strokeWidth": 1},
 "encoding": {"x": {"datum": 0.06, "type": "quantitative", "scale": {"domain": [-0.693, 5.54], "nice": false, "zero": false}}, "x2": {"datum": 5.19},
 "y": {"field": "z", "type": "quantitative", "scale": {"domain": [-1.357, 1.629], "nice": false, "zero": false}}}},
{"data": {"values": [{"ci": 0.0894}, {"ci": -0.0894}]}, "mark": {"type": "rule", "stroke": "#6b6bff", "strokeWidth": 1.3, "strokeDash": [3, 3]},
 "encoding": {"x": {"datum": 0.06, "type": "quantitative", "scale": {"domain": [-0.693, 5.54], "nice": false, "zero": false}}, "x2": {"datum": 5.19},
 "y": {"field": "ci", "type": "quantitative", "scale": {"domain": [-1.357, 1.629], "nice": false, "zero": false}}}},
{"data": {"name": "pacf"}, "mark": {"type": "rule", "stroke": "#7a7a7a", "strokeWidth": 1.6},
 "encoding": {"x": {"field": "lag", "type": "quantitative", "scale": {"domain": [-0.693, 5.54], "nice": false, "zero": false},
  "axis": {"orient": "bottom", "offset": -56, "values": [1, 2, 3, 4, 5], "format": "d", "domain": false, "grid": false, "ticks": true, "tickSize": 5, "tickColor": "#444444", "labelFlush": false, "labelFont": "Liberation Sans", "labelFontSize": 10.5, "labelColor": "#333333", "labelPadding": 4, "title": "Lag", "titleFont": "Liberation Sans", "titleFontSize": 10.5, "titleFontWeight": "normal", "titleColor": "#333333", "titlePadding": 12, "zindex": 1}},
 "y": {"field": "pacf", "type": "quantitative", "scale": {"domain": [-1.357, 1.629], "nice": false, "zero": false},
  "axis": {"orient": "left", "offset": -45.8, "values": [-0.5, 0, 0.5, 1], "format": ".1f", "domain": false, "grid": false, "ticks": true, "tickSize": 5, "tickColor": "#444444", "labelAngle": 270, "labelAlign": "center", "labelBaseline": "bottom", "labelOverlap": false, "labelFont": "Liberation Sans", "labelFontSize": 10.5, "labelColor": "#333333", "labelPadding": 5, "title": "Partial ACF", "titleFont": "Liberation Sans", "titleFontSize": 10.5, "titleFontWeight": "normal", "titleColor": "#333333", "titlePadding": 10, "zindex": 1}},
 "y2": {"datum": 0}}},
{"data": {"values": [{"title": "PACF empirica"}]}, "mark": {"type": "text", "align": "center", "baseline": "middle", "font": "Liberation Sans", "fontWeight": "bold", "fontSize": 12, "color": "#222222"},
 "encoding": {"x": {"datum": 2.625, "type": "quantitative", "scale": {"domain": [-0.693, 5.54], "nice": false, "zero": false}}, "y": {"datum": 1.365, "type": "quantitative", "scale": {"domain": [-1.357, 1.629], "nice": false, "zero": false}}, "text": {"field": "title"}}}
]
}
]
}
]
}
]
}
